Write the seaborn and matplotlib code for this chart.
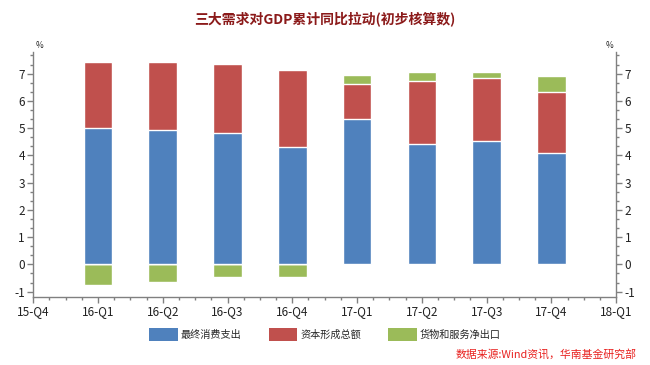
import numpy as np
import pandas as pd
import matplotlib
matplotlib.use("Agg")
import matplotlib.pyplot as plt
import seaborn as sns
from matplotlib.ticker import MultipleLocator, AutoMinorLocator
from matplotlib.patches import Patch

# x轴刻度 (两端为空)
all_labels = ['15-Q4', '16-Q1', '16-Q2', '16-Q3', '16-Q4',
              '17-Q1', '17-Q2', '17-Q3', '17-Q4', '18-Q1']
quarters = ['16-Q1', '16-Q2', '16-Q3', '16-Q4',
            '17-Q1', '17-Q2', '17-Q3', '17-Q4']

# 三大需求拉动 (%)
consumption = [5.02, 4.93, 4.83, 4.32, 5.32, 4.43, 4.54, 4.10]
capital = [2.42, 2.51, 2.51, 2.81, 1.31, 2.30, 2.31, 2.22]
net_export = [-0.77, -0.66, -0.48, -0.48, 0.32, 0.32, 0.20, 0.61]

series_names = ['最终消费支出', '资本形成总额', '货物和服务净出口']
colors = ['#4F81BD', '#C0504D', '#9BBB59']

sns.set_style('white')
plt.rcParams['font.family'] = ['Noto Sans CJK SC', 'DejaVu Sans']
plt.rcParams['axes.unicode_minus'] = False

df = pd.DataFrame({'q': quarters, 'c': consumption, 'k': capital, 'n': net_export})
df['ck'] = df['c'] + df['k']
# 正的净出口叠在最上面，负的从0往下画
df['n_draw'] = np.where(df['n'] > 0, df['ck'] + df['n'], df['n'])

fig = plt.figure(figsize=(6.5, 3.65), dpi=100)
ax = fig.add_axes([0.051, 0.186, 0.897, 0.672])

w = 0.44
sns.barplot(data=df, x='q', y='n_draw', order=all_labels, color=colors[2],
            width=w, errorbar=None, saturation=1, ax=ax)
sns.barplot(data=df, x='q', y='ck', order=all_labels, color=colors[1],
            width=w, errorbar=None, saturation=1, ax=ax)
sns.barplot(data=df, x='q', y='c', order=all_labels, color=colors[0],
            width=w, errorbar=None, saturation=1, ax=ax)

ax.set_xlim(0, 9)
ax.set_ylim(-1.2, 7.8)
ax.set_xlabel('')
ax.set_ylabel('')
ax.set_xticks(range(len(all_labels)))
ax.set_xticklabels(all_labels)
ax.xaxis.set_minor_locator(MultipleLocator(0.25))
ax.yaxis.set_major_locator(MultipleLocator(1))
ax.yaxis.set_minor_locator(AutoMinorLocator(3))

gray = '#808080'
for s in ['left', 'bottom', 'right']:
    ax.spines[s].set_visible(True)
    ax.spines[s].set_color(gray)
    ax.spines[s].set_linewidth(1.0)
ax.spines['top'].set_visible(False)

ax.tick_params(axis='both', which='major', length=4, width=1, color=gray,
               labelsize=8.5, labelcolor='#222222', pad=2)
ax.tick_params(axis='both', which='minor', length=2.5, width=1, color=gray)
ax.tick_params(axis='y', which='both', left=True, right=True, labelleft=True, labelright=True)
ax.tick_params(axis='x', which='both', bottom=True)

ax.text(0.04, 7.85, '%', fontsize=6, ha='left', va='bottom', color='#222222')
ax.text(8.96, 7.85, '%', fontsize=6, ha='right', va='bottom', color='#222222')

fig.text(0.5, 0.945, '三大需求对GDP累计同比拉动(初步核算数)', ha='center', va='center',
         fontsize=10, fontweight='bold', color='#8B1A1A')

handles = [Patch(facecolor=c, edgecolor='none') for c in colors]
fig.legend(handles, series_names, loc='center', bbox_to_anchor=(0.5, 0.083), ncol=3,
           frameon=False, fontsize=7.3, handlelength=2.8, handleheight=1.6,
           handletextpad=0.3, columnspacing=2.7)

fig.text(0.98, 0.028, '数据来源:Wind资讯，华南基金研究部', ha='right', va='center',
         fontsize=7.8, color='#E8201E', style='italic')

fig.savefig('out.png', dpi=100)
